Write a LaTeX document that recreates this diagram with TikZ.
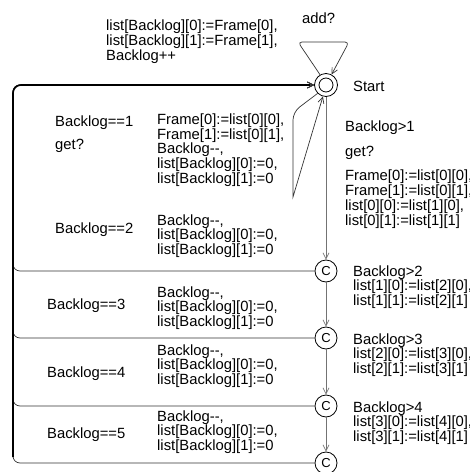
\documentclass[tikz,border=0pt]{standalone}
\usepackage{fontspec}
\setmainfont{Liberation Sans}
\usetikzlibrary{arrows.meta}
\begin{document}
\begin{tikzpicture}[x=1pt,y=-1pt,
  lbl/.style={anchor=west, inner sep=0pt, align=left,
    font=\fontsize{14.8}{13.5}\selectfont},
  loc/.style={circle, draw=black, line width=0.8pt, minimum size=22pt,
    inner sep=0pt, font=\fontsize{13}{13}\selectfont},
  tip/.style={-{Straight Barb[length=6pt,width=6pt]}},
  edge/.style={draw=black!80, line width=0.7pt, tip},
  vedge/.style={draw=black!55, line width=0.7pt, tip},
  trunk/.style={draw=black, line width=1.6pt, rounded corners=8pt}
]
\useasboundingbox (0,0) rectangle (470,472);

% locations
\node[loc, minimum size=23pt] (start) at (326,85) {};
\draw[line width=0.8pt] (start.center) circle (7pt);
\node[loc] (c1) at (326,271) {C};
\node[loc] (c2) at (326,338) {C};
\node[loc] (c3) at (326,406) {C};
\node[loc] (c4) at (326,463) {C};

% corners of the return path on the left
\coordinate (tl) at (13,85);
\coordinate (b1) at (13,271);
\coordinate (b2) at (13,338);
\coordinate (b3) at (13,406);
\coordinate (b4) at (13,463);

% add? self loop
\draw[edge, rounded corners=4pt] (start.120) -- (298,42) -- (349,42) -- (start.62);

% get? loop for Backlog==1
\draw[edge] (start.225) [rounded corners=8pt] -- (293,112) [sharp corners] -- (293,197) -- (start.255);

% chain through the committed locations
\draw[vedge] (start.south) -- (c1.north);
\draw[vedge] (c1.south) -- (c2.north);
\draw[vedge] (c2.south) -- (c3.north);
\draw[vedge] (c3.south) -- (c4.north);

% return edges to Start
\draw[edge, rounded corners=7pt] (c1.west) -- (b1) -- (tl) -- (start.west);
\draw[edge, rounded corners=7pt] (c2.west) -- (b2) -- (tl) -- (start.west);
\draw[edge, rounded corners=7pt] (c3.west) -- (b3) -- (tl) -- (start.west);
\draw[edge, rounded corners=7pt] (c4.west) -- (b4) -- (tl) -- (start.west);
\draw[trunk, shorten >=4pt] (13,457) -- (tl) -- (start.west);

% labels
\node[lbl] (tupd) at (106,41.5) {list[Backlog][0]:=Frame[0],\\list[Backlog][1]:=Frame[1],\\Backlog++};
\node[lbl] (tadd) at (302,18) {add?};
\node[lbl] (tstart) at (353,86) {Start};

\node[lbl] (g1) at (55,123) {Backlog==1};
\node[lbl] (s1) at (55,146) {get?};
\node[lbl] (u1) at (157,150) {Frame[0]:=list[0][0],\\Frame[1]:=list[0][1],\\Backlog-{}-,\\list[Backlog][0]:=0,\\list[Backlog][1]:=0};

\node[lbl] (gm) at (345,128) {Backlog>1};
\node[lbl] (sm) at (345,153) {get?};
\node[lbl] (um) at (345,199) {Frame[0]:=list[0][0],\\Frame[1]:=list[0][1],\\list[0][0]:=list[1][0],\\list[0][1]:=list[1][1]};

\node[lbl] (g2) at (55,230) {Backlog==2};
\node[lbl] (u2) at (157,236) {Backlog-{}-,\\list[Backlog][0]:=0,\\list[Backlog][1]:=0};
\node[lbl] (r2) at (353,287) {Backlog>2\\list[1][0]:=list[2][0],\\list[1][1]:=list[2][1]};

\node[lbl] (g3) at (47,306) {Backlog==3};
\node[lbl] (u3) at (157,308) {Backlog-{}-,\\list[Backlog][0]:=0,\\list[Backlog][1]:=0};
\node[lbl] (r3) at (353,355) {Backlog>3\\list[2][0]:=list[3][0],\\list[2][1]:=list[3][1]};

\node[lbl] (g4) at (47,374) {Backlog==4};
\node[lbl] (u4) at (157,366) {Backlog-{}-,\\list[Backlog][0]:=0,\\list[Backlog][1]:=0};
\node[lbl] (r4) at (353,423) {Backlog>4\\list[3][0]:=list[4][0],\\list[3][1]:=list[4][1]};

\node[lbl] (g5) at (47,435) {Backlog==5};
\node[lbl] (u5) at (157,432) {Backlog-{}-,\\list[Backlog][0]:=0,\\list[Backlog][1]:=0};
\end{tikzpicture}
\end{document}
